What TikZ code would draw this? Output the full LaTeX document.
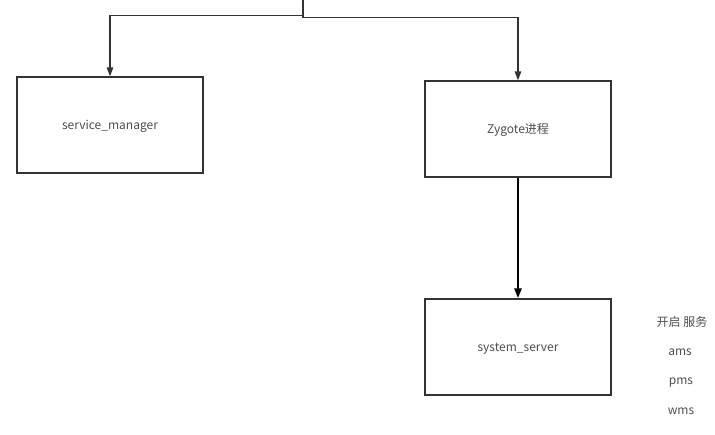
\documentclass[tikz,border=0pt]{standalone}
\usepackage{fontspec}
\setmainfont{Noto Sans CJK SC}
\usetikzlibrary{arrows.meta}
\definecolor{linec}{HTML}{333333}
\definecolor{textc}{HTML}{4D4D4D}
\tikzset{
  box/.style={draw=linec, line width=1.3pt, minimum width=186pt, minimum height=96pt, inner sep=0pt, text height=10.5pt, text depth=1.5pt, font=\fontsize{12pt}{14pt}\selectfont, text=textc},
  conn/.style={draw=linec, line width=1.3pt, -{Triangle[length=9pt,width=6.5pt]}},
  thickconn/.style={draw=black, line width=2.6pt, -{Triangle[length=10pt,width=7pt]}},
  lbl/.style={font=\fontsize{12pt}{14pt}\selectfont, text=textc, inner sep=0pt, text height=9pt, text depth=3pt}
}
\begin{document}
\begin{tikzpicture}[x=1pt,y=-1pt]
\useasboundingbox (0,0) rectangle (715,434);
\node[box] (sm) at (110,125) {service\_manager};
\node[box] (zy) at (518,129) {Zygote进程};
\node[box] (ss) at (518,347) {system\_server};
\coordinate (top) at (303,0);
\draw[conn] (top) -- ++(0,15.5) -| (sm.north);
\draw[conn] (top) -- ++(0,17.5) -| (zy.north);
\draw[thickconn] (zy.south) -- (ss.north);
\node[lbl] (t1) at (682,323) {开启 服务};
\node[lbl] (t2) at (680,352) {ams};
\node[lbl] (t3) at (681,381) {pms};
\node[lbl] (t4) at (681,411) {wms};
\end{tikzpicture}
\end{document}
